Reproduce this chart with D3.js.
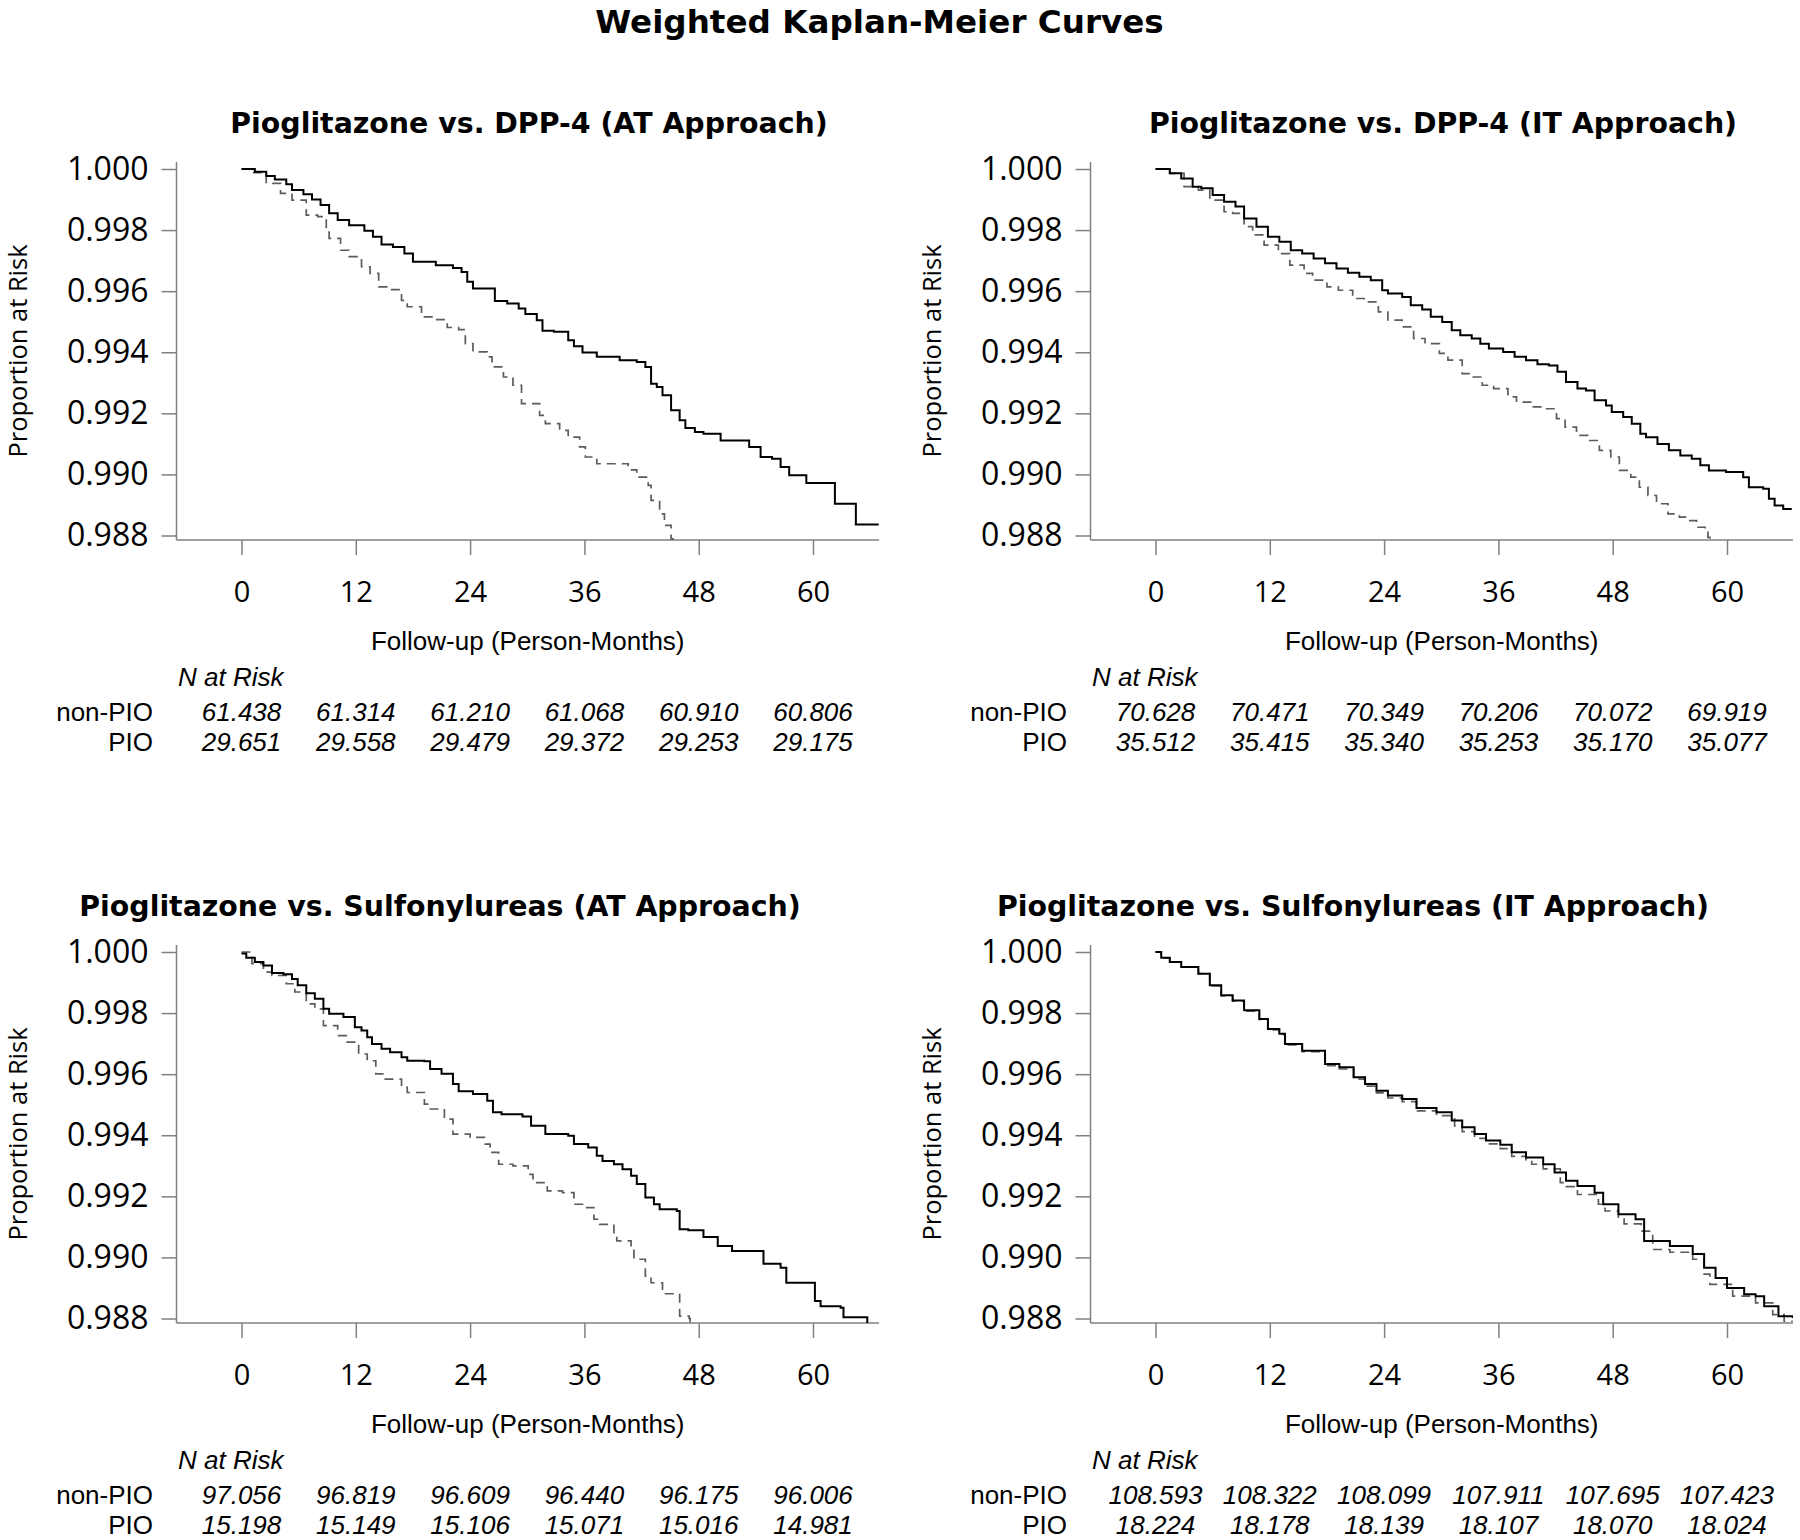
<!DOCTYPE html>
<html><head><meta charset="utf-8">
<script src="https://cdn.jsdelivr.net/npm/d3@7"></script>
<style>body{margin:0;background:#fff}</style>
</head><body>
<svg id="c" width="1800" height="1540"></svg>
<script>
// ---------------- DATA ----------------
const mainTitle = "Weighted Kaplan-Meier Curves";
const panelTitles = [
  "Pioglitazone vs. DPP-4 (AT Approach)",
  "Pioglitazone vs. DPP-4 (IT Approach)",
  "Pioglitazone vs. Sulfonylureas (AT Approach)",
  "Pioglitazone vs. Sulfonylureas (IT Approach)"
];
const xTicks = [0, 12, 24, 36, 48, 60];
const yTicks = [0.988, 0.990, 0.992, 0.994, 0.996, 0.998, 1.000];
const xLabel = "Follow-up (Person-Months)";
const yLabel = "Proportion at Risk";
const riskHeader = "N at Risk";
const groupLabels = ["non-PIO", "PIO"];

// Number at risk (per tick)
const dppAT_nonPIO = [61.438, 61.314, 61.210, 61.068, 60.910, 60.806];
const dppAT_PIO    = [29.651, 29.558, 29.479, 29.372, 29.253, 29.175];
const dppIT_nonPIO = [70.628, 70.471, 70.349, 70.206, 70.072, 69.919];
const dppIT_PIO    = [35.512, 35.415, 35.340, 35.253, 35.170, 35.077];
const suAT_nonPIO  = [97.056, 96.819, 96.609, 96.440, 96.175, 96.006];
const suAT_PIO     = [15.198, 15.149, 15.106, 15.071, 15.016, 14.981];
const suIT_nonPIO  = [108.593, 108.322, 108.099, 107.911, 107.695, 107.423];
const suIT_PIO     = [18.224, 18.178, 18.139, 18.107, 18.070, 18.024];

// Kaplan-Meier step curves [month, proportion]
const dppAT_solid = [[0,1.0],[1.4,0.99991],[2.6,0.99977],[3.5,0.99966],[4.7,0.9995],[5.3,0.99931],[6.5,0.99917],[7.4,0.999],[8.3,0.99882],[9.2,0.99855],[10.1,0.99833],[11.3,0.99816],[12.9,0.99798],[13.8,0.99778],[14.7,0.99753],[15.9,0.99745],[17.1,0.99723],[18,0.99696],[20.4,0.99685],[22.2,0.99676],[23.1,0.99663],[23.7,0.99631],[24.3,0.99609],[26.6,0.99568],[27.9,0.9956],[29.1,0.99543],[29.8,0.99525],[31,0.99505],[31.6,0.9947],[32.8,0.99467],[34.3,0.99439],[34.9,0.9942],[35.8,0.99399],[37.3,0.99385],[39.7,0.99374],[41.5,0.99368],[42.4,0.99352],[43,0.99297],[43.6,0.99286],[44.2,0.99259],[45.1,0.9921],[46,0.99177],[46.6,0.99152],[47.6,0.99139],[48.5,0.99133],[50.3,0.99111],[53.3,0.9909],[54.5,0.99057],[55.7,0.99051],[56.6,0.99024],[57.5,0.98997],[59.3,0.98972],[62.3,0.98904],[64.5,0.98836],[66.9,0.98836]];
const dppAT_dashed = [[0,1.0],[1.1,0.99988],[2.6,0.99953],[4.1,0.9992],[5.3,0.99898],[6.8,0.99849],[8,0.99844],[8.9,0.998],[9.2,0.99773],[10.4,0.99734],[11.3,0.99713],[12.6,0.9968],[13.5,0.99658],[14.4,0.99614],[15.6,0.99605],[16.8,0.9957],[17.4,0.99549],[18.9,0.99516],[20.4,0.99507],[21.6,0.99481],[22.8,0.99474],[23.5,0.99428],[24.3,0.99401],[25.8,0.99385],[26.3,0.99352],[27.5,0.99319],[28.5,0.99292],[29.4,0.99232],[31.3,0.99193],[31.9,0.99166],[33.4,0.99144],[34.3,0.99122],[35.5,0.9909],[36.1,0.99057],[37.3,0.99035],[40.6,0.99015],[41.5,0.98991],[42.7,0.98964],[43,0.98915],[43.9,0.98871],[44.4,0.98833],[45.1,0.98789],[45.3,0.9877]];
const dppIT_solid = [[0,1.0],[1.5,0.99986],[2.7,0.99969],[3.9,0.99942],[4.8,0.99937],[6,0.99915],[7.2,0.99893],[8.4,0.99877],[9.3,0.99838],[10.6,0.99811],[11.8,0.99778],[13,0.99762],[14.2,0.99734],[15.4,0.99723],[16.6,0.99707],[17.8,0.99691],[19,0.99674],[20.2,0.9966],[21.4,0.99647],[22.6,0.99636],[23.8,0.99603],[24.4,0.99592],[25.9,0.99581],[26.8,0.99554],[28,0.9954],[28.9,0.99516],[30.1,0.99499],[31.1,0.99472],[32,0.99456],[33.2,0.99445],[34.1,0.99428],[35,0.99412],[36.5,0.99401],[37.7,0.99385],[38.9,0.99374],[40.1,0.99361],[41.3,0.99357],[42.2,0.99336],[43.1,0.99303],[44.3,0.99281],[45.2,0.99275],[46.1,0.99243],[47.3,0.99226],[47.9,0.99204],[49.1,0.99188],[50,0.99166],[50.9,0.99133],[51.5,0.99122],[52.7,0.991],[53.9,0.99079],[55.1,0.99062],[56.3,0.99051],[57.2,0.9903],[58.1,0.99013],[59.9,0.99008],[61.7,0.98991],[62.3,0.98958],[63.8,0.98953],[64.4,0.9892],[65,0.98898],[65.9,0.98887],[66.8,0.98887]];
const dppIT_dashed = [[0,1.0],[1.5,0.99986],[3,0.99942],[4.5,0.99931],[5.7,0.99898],[7.2,0.9986],[8.1,0.99855],[9.3,0.99811],[10.2,0.99784],[11.4,0.99751],[12.9,0.99723],[14.1,0.99685],[15.6,0.99658],[16.5,0.99636],[18,0.99614],[19.2,0.99603],[20.7,0.99576],[21.9,0.99565],[23.4,0.99532],[24.4,0.99505],[25.9,0.99483],[27.1,0.99445],[28.3,0.99428],[29.8,0.99396],[30.7,0.99374],[32.2,0.9933],[33.1,0.99319],[34.3,0.99292],[35.5,0.99281],[37,0.99254],[37.9,0.99237],[39.4,0.99221],[40.6,0.99215],[42.1,0.99183],[43,0.99155],[44.2,0.99128],[45.4,0.99111],[46.6,0.99079],[47.8,0.99057],[48.7,0.99013],[49.9,0.98991],[50.8,0.98958],[51.7,0.98931],[52.6,0.98904],[53.8,0.98871],[55,0.9886],[55.9,0.98849],[56.8,0.98827],[57.7,0.98811],[58,0.98794],[58.2,0.9878]];
const suAT_solid = [[0,0.99995],[0.5,0.99981],[1.4,0.99967],[2.3,0.99956],[3.2,0.99931],[4.4,0.99927],[5.3,0.99912],[5.9,0.99891],[6.8,0.99865],[7.7,0.99847],[8.6,0.99814],[9.2,0.99798],[10.7,0.99787],[11.9,0.99754],[12.6,0.99743],[13.2,0.99721],[13.7,0.99699],[14.7,0.99683],[15.6,0.99672],[16.8,0.99655],[17.4,0.99644],[19.2,0.99642],[19.8,0.99617],[21,0.99601],[22.2,0.99568],[22.8,0.99544],[24.3,0.99535],[25.8,0.99513],[26.4,0.99475],[27.3,0.99469],[29.5,0.99461],[30.4,0.99431],[31.9,0.99404],[34.3,0.99398],[34.9,0.99371],[36.4,0.9936],[37.3,0.99333],[37.9,0.99316],[39.1,0.99305],[40,0.99289],[40.9,0.99267],[41.5,0.9924],[42.4,0.99196],[43.3,0.99174],[43.9,0.99158],[45.7,0.99152],[46,0.99092],[46.9,0.99089],[48.5,0.99067],[50,0.99037],[51.5,0.99021],[54.8,0.98979],[56.6,0.98966],[57.2,0.98917],[60.2,0.98857],[60.8,0.9884],[62.9,0.98835],[63.2,0.98804],[65.6,0.98804],[65.7,0.9878]];
const suAT_dashed = [[0,1.0],[1.1,0.99962],[2.3,0.99934],[3.2,0.99923],[4.7,0.99896],[5.6,0.99869],[6.8,0.9983],[7.7,0.99814],[8.6,0.99759],[10.1,0.99726],[11,0.99705],[12.3,0.99666],[13.2,0.99644],[14.1,0.99601],[15,0.99584],[16.8,0.99557],[17.4,0.9954],[19.2,0.99502],[19.8,0.99486],[21.3,0.99453],[22.2,0.99404],[24,0.99393],[25.5,0.99371],[26.1,0.99344],[27,0.99305],[28.5,0.993],[30.1,0.99272],[30.6,0.99245],[32.1,0.99218],[33.7,0.99212],[34.9,0.99174],[35.8,0.99163],[37,0.99125],[37.6,0.99108],[39.1,0.99081],[39.4,0.99054],[40.9,0.99026],[41.2,0.98994],[42.4,0.98939],[43,0.98917],[44.2,0.98881],[46,0.98808],[47,0.988],[47.1,0.9878]];
const suIT_solid = [[0,1.0],[0.6,0.99981],[1.5,0.99967],[2.7,0.99951],[4.5,0.99929],[5.7,0.99891],[6.9,0.99858],[8.1,0.99841],[9.3,0.99809],[10.9,0.99781],[11.8,0.99748],[13,0.99732],[13.6,0.99699],[15.4,0.99677],[17.8,0.99633],[19.3,0.99623],[20.8,0.9959],[22,0.99568],[23.2,0.99546],[24.4,0.9953],[25.9,0.99519],[27.4,0.99489],[29.5,0.99475],[31.1,0.99448],[32.2,0.99426],[33.5,0.99404],[34.7,0.99383],[36.2,0.99369],[37.4,0.99344],[38.9,0.99327],[40.7,0.99305],[41.9,0.99278],[43.1,0.99251],[44.3,0.99234],[46.1,0.99212],[47,0.99174],[48.6,0.99141],[50.4,0.99125],[51.3,0.99054],[54,0.99037],[56.4,0.99011],[57.6,0.98966],[58.8,0.98933],[60,0.989],[61.8,0.98879],[63,0.98873],[63.9,0.9884],[65.4,0.98807],[66.9,0.98802]];
const suIT_dashed = [[0,1.0],[0.6,0.99981],[1.5,0.99967],[2.7,0.99951],[4.5,0.99929],[5.7,0.99889],[6.9,0.99856],[8.1,0.99839],[9.3,0.99806],[10.9,0.99779],[11.8,0.99745],[13,0.99729],[13.6,0.99696],[15.4,0.99674],[17.8,0.99628],[19.3,0.99617],[20.8,0.99584],[22,0.99561],[23.2,0.99539],[24.4,0.99522],[25.9,0.9951],[27.4,0.9948],[29.5,0.99464],[31.4,0.99431],[32.2,0.99412],[33.5,0.9939],[34.7,0.99372],[36.2,0.99356],[37.4,0.99331],[38.9,0.99314],[39.5,0.99305],[40.7,0.9929],[42.5,0.99245],[43.1,0.99232],[44.3,0.99206],[46.5,0.99174],[47.2,0.99152],[48.6,0.99128],[49.2,0.9911],[51,0.99086],[52.2,0.99026],[54,0.99017],[56.4,0.98994],[57.6,0.98945],[58.2,0.98912],[60.6,0.98873],[63,0.98851],[64.8,0.98813],[66,0.98791],[66.9,0.98791]];

// ---------------- LAYOUT ----------------
const svg = d3.select("#c");
svg.append("rect").attr("width", 1800).attr("height", 1540).attr("fill", "#fff");

const panels = [
  { title: panelTitles[0], solid: dppAT_solid, dashed: dppAT_dashed, risk: [dppAT_nonPIO, dppAT_PIO], dx: 0,   dy: 0,   tx: 529 },
  { title: panelTitles[1], solid: dppIT_solid, dashed: dppIT_dashed, risk: [dppIT_nonPIO, dppIT_PIO], dx: 914, dy: 0,   tx: 1443 },
  { title: panelTitles[2], solid: suAT_solid,  dashed: suAT_dashed,  risk: [suAT_nonPIO, suAT_PIO],   dx: 0,   dy: 783, tx: 440 },
  { title: panelTitles[3], solid: suIT_solid,  dashed: suIT_dashed,  risk: [suIT_nonPIO, suIT_PIO],   dx: 914, dy: 783, tx: 1353 }
];

const TICK_FONT = "'Open Sans', 'DejaVu Sans', sans-serif";
const ARIAL = "'Liberation Sans', Arial, sans-serif";
const TITLE_FONT = "'DejaVu Sans', Verdana, sans-serif";
const AXIS_COLOR = "#808080";
const fmt3 = d3.format(".3f");

svg.append("text")
  .attr("x", 879.5).attr("y", 33)
  .attr("text-anchor", "middle")
  .attr("font-family", TITLE_FONT).attr("font-weight", "bold").attr("font-size", 32.6)
  .attr("fill", "#000")
  .text(mainTitle);

panels.forEach((p, i) => {
  const g = svg.append("g").attr("transform", `translate(${p.dx},${p.dy})`);
  const x = d3.scaleLinear().domain([0, 60]).range([241.5, 813]);
  const y = d3.scaleLinear().domain([0.988, 1.0]).range([535.5, 169]);
  const axisX0 = 176.5, axisX1 = 879, axisY = 540, axisTop = 162;

  // title
  g.append("text")
    .attr("x", p.tx - p.dx).attr("y", 133)
    .attr("text-anchor", "middle")
    .attr("font-family", TITLE_FONT).attr("font-weight", "bold").attr("font-size", 28.4)
    .attr("fill", "#000")
    .text(p.title);

  // clip
  const cid = "clip" + i;
  g.append("clipPath").attr("id", cid).append("rect")
    .attr("x", axisX0).attr("y", 150).attr("width", axisX1 - axisX0).attr("height", axisY - 150);

  // y axis
  const ya = g.append("g").attr("transform", `translate(${axisX0},0)`)
    .call(d3.axisLeft(y).tickValues(yTicks).tickFormat(fmt3).tickSize(15).tickPadding(13));
  ya.select(".domain").remove();
  ya.selectAll(".tick line").attr("stroke", AXIS_COLOR).attr("stroke-width", 1.5);
  ya.selectAll(".tick text").attr("font-family", TICK_FONT).attr("font-size", 32).attr("fill", "#000");
  g.append("line").attr("x1", axisX0).attr("x2", axisX0).attr("y1", axisTop).attr("y2", axisY)
    .attr("stroke", AXIS_COLOR).attr("stroke-width", 1.5);

  // x axis
  const xa = g.append("g").attr("transform", `translate(0,${axisY})`)
    .call(d3.axisBottom(x).tickValues(xTicks).tickFormat(d3.format("d")).tickSize(15).tickPadding(26));
  xa.select(".domain").remove();
  xa.selectAll(".tick line").attr("stroke", AXIS_COLOR).attr("stroke-width", 1.5);
  xa.selectAll(".tick text").attr("font-family", TICK_FONT).attr("font-size", 29).attr("fill", "#000");
  g.append("line").attr("x1", axisX0).attr("x2", axisX1).attr("y1", axisY).attr("y2", axisY)
    .attr("stroke", AXIS_COLOR).attr("stroke-width", 1.5);

  // y label
  g.append("text")
    .attr("transform", `translate(17,351) rotate(-90)`)
    .attr("text-anchor", "middle").attr("dominant-baseline", "central")
    .attr("font-family", TICK_FONT).attr("font-size", 25.5).attr("fill", "#000")
    .text(yLabel);

  // x label
  g.append("text")
    .attr("x", (axisX0 + axisX1) / 2).attr("y", 650)
    .attr("text-anchor", "middle")
    .attr("font-family", ARIAL).attr("font-size", 26).attr("fill", "#000")
    .text(xLabel);

  // curves
  const line = d3.line().x(d => x(d[0])).y(d => y(d[1])).curve(d3.curveStepAfter);
  const cg = g.append("g").attr("clip-path", `url(#${cid})`);
  cg.append("path").datum(p.dashed).attr("d", line)
    .attr("fill", "none").attr("stroke", "#5c5c5c").attr("stroke-width", 1.7)
    .attr("stroke-dasharray", "9,6");
  cg.append("path").datum(p.solid).attr("d", line)
    .attr("fill", "none").attr("stroke", "#000").attr("stroke-width", 2);

  // risk table
  g.append("text")
    .attr("x", 178).attr("y", 686)
    .attr("font-family", ARIAL).attr("font-style", "italic").attr("font-size", 26).attr("fill", "#000")
    .text(riskHeader);
  const rowY = [721, 751];
  groupLabels.forEach((lab, r) => {
    g.append("text")
      .attr("x", 153).attr("y", rowY[r])
      .attr("text-anchor", "end")
      .attr("font-family", ARIAL).attr("font-size", 26).attr("fill", "#000")
      .text(lab);
    g.selectAll(null).data(p.risk[r]).enter().append("text")
      .attr("x", (d, k) => x(xTicks[k])).attr("y", rowY[r])
      .attr("text-anchor", "middle")
      .attr("font-family", ARIAL).attr("font-style", "italic").attr("font-size", 26).attr("fill", "#000")
      .text(d => fmt3(d));
  });
});
</script>
</body></html>
